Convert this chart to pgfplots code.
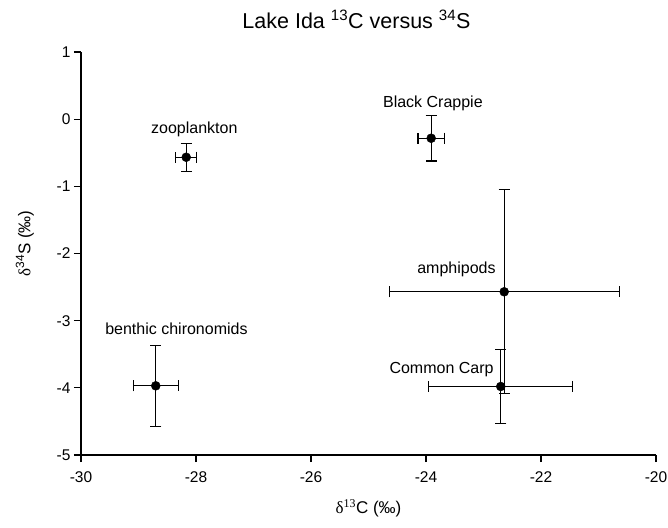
\documentclass[border=0pt]{standalone}
\usepackage{pgfplots}
\pgfplotsset{compat=1.18}
\usepackage{fontspec}
\setmainfont{Liberation Sans}
\newfontfamily\serif{Liberation Serif}
\begin{document}
\begin{tikzpicture}
\begin{axis}[
  name=ax,
  scale only axis,
  width=575pt, height=403pt,
  xmin=-30, xmax=-20, ymin=-5, ymax=1,
  axis x line=bottom, axis y line=left,
  axis line style={-, line width=1.2pt},
  tick style={line width=1.2pt, black},
  tick align=outside, major tick length=7pt,
  xtick={-30,-28,-26,-24,-22,-20},
  xticklabels={-30,-28,-26,-24,-22,-20},
  ytick={-5,-4,-3,-2,-1,0,1},
  yticklabels={-5,-4,-3,-2,-1,0,1},
  ticklabel style={font=\fontsize{15.5}{18}\selectfont},
  xticklabel style={yshift=-6pt},
  title={Lake Ida \textsuperscript{13}C versus \textsuperscript{34}S},
  title style={font=\fontsize{21.5}{25}\selectfont, yshift=14pt, xshift=-12pt},
  xlabel={{\serif δ\textsuperscript{13}}C (‰)},
  ylabel={{\serif δ}\textsuperscript{34}S (‰)},
  label style={font=\fontsize{17}{20}\selectfont},
  xlabel style={yshift=-10pt},
  ylabel style={yshift=16pt, xshift=10pt},
]
\addplot+[only marks, mark=*, mark size=4.5pt, black, mark options={fill=black},
  error bars/.cd, x dir=both, x explicit, y dir=both, y explicit,
  error bar style={line width=1.2pt, black},
  error mark=|,
  error mark options={mark size=5.5pt, line width=1.2pt, black}]
table[x=x, y=y, x error=ex, y error=ey] {
x y ex ey
-28.17 -0.567 0.18 0.21
-23.91 -0.284 0.23 0.34
-28.70 -3.97 0.39 0.60
-22.64 -2.57 2.00 1.52
-22.70 -3.98 1.25 0.55
};
\node[font=\fontsize{16}{19}\selectfont] at (axis cs:-28.03,-0.15) {zooplankton};
\node[font=\fontsize{16}{19}\selectfont] at (axis cs:-23.88,0.23) {Black Crappie};
\node[font=\fontsize{16}{19}\selectfont] at (axis cs:-28.34,-3.12) {benthic chironomids};
\node[font=\fontsize{16}{19}\selectfont] at (axis cs:-23.47,-2.24) {amphipods};
\node[font=\fontsize{16}{19}\selectfont] at (axis cs:-23.73,-3.73) {Common Carp};
\end{axis}
\pgfresetboundingbox
\useasboundingbox ([shift={(-81pt,-72pt)}]ax.south west) rectangle ([shift={(12pt,52pt)}]ax.north east);
\end{tikzpicture}
\end{document}
